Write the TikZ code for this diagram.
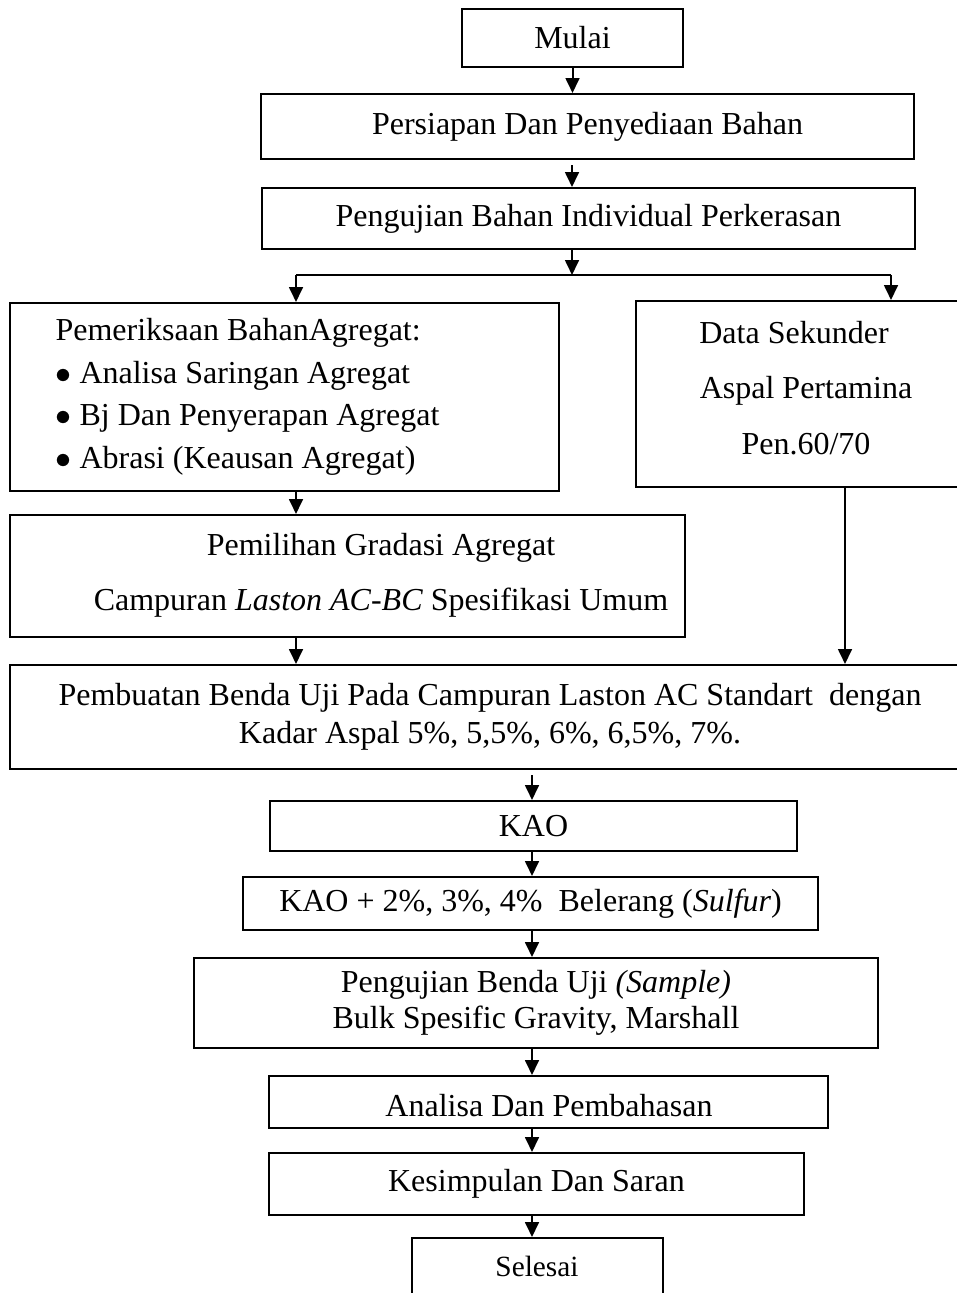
\documentclass[tikz,border=0pt]{standalone}
\usepackage{fontspec}
\setmainfont{Liberation Serif}
\usetikzlibrary{arrows.meta}
\newcommand{\pxl}{0.375pt}
\newcommand{\blt}{$\bullet$\hspace{3pt}}

\begin{document}
\begin{tikzpicture}[x=0.375pt, y=-0.375pt,
    box/.style={rectangle, draw, line width=0.75pt, inner sep=0pt, align=center, font=\fontsize{12}{14.4}\selectfont},
    txt/.style={inner sep=0pt, font=\fontsize{12}{14.4}\selectfont},
    arr/.style={-{Triangle[length=5.6pt, width=5.2pt]}, line width=0.75pt},
    splitline/.style={line width=0.75pt}
]
    \useasboundingbox (0,0) rectangle (957,1293);
    % upper chain
    \node[box, minimum width=221*\pxl, minimum height=58*\pxl] (mulai) at (572.5,38) {Mulai};
    \node[box, minimum width=653*\pxl, minimum height=65*\pxl] (siap) at (587.5,126.5) {Persiapan Dan Penyediaan Bahan};
    \node[box, minimum width=653*\pxl, minimum height=61*\pxl] (uji) at (588.5,218.5) {Pengujian Bahan Individual Perkerasan};
    \coordinate (split) at (572,275);
    \coordinate (splitL) at (296,275);
    \coordinate (splitR) at (891,275);
    % two branches
    \node[box, minimum width=549*\pxl, minimum height=188*\pxl] (periksa) at (284.5,397) {};
    \node[txt, anchor=west, align=left, font=\fontsize{12}{16}\selectfont] (periksatxt) at (55,397)
        {Pemeriksaan BahanAgregat:\\
         \blt Analisa Saringan Agregat\\
         \blt Bj Dan Penyerapan Agregat\\
         \blt Abrasi (Keausan Agregat)};
    \node[box, minimum width=334*\pxl, minimum height=186*\pxl] (data) at (803,394) {};
    \node[txt, align=center, font=\fontsize{12}{20.8}\selectfont] (datatxt) at (806,388)
        {Data Sekunder\hspace*{9pt}\\Aspal Pertamina\\Pen.60/70};
    \coordinate (dataout) at (845,487);
    \node[box, minimum width=675*\pxl, minimum height=122*\pxl] (pilih) at (347.5,576) {};
    \node[txt, align=center, font=\fontsize{12}{20.6}\selectfont] (pilihtxt) at (381,575)
        {Pemilihan Gradasi Agregat\\Campuran \textit{Laston AC-BC} Spesifikasi Umum};
    % lower chain
    \node[box, minimum width=960*\pxl, minimum height=104*\pxl, font=\fontsize{12}{14.25}\selectfont] (buat) at (490,717)
        {Pembuatan Benda Uji Pada Campuran Laston AC Standart\ \ dengan\\Kadar Aspal 5\%, 5,5\%, 6\%, 6,5\%, 7\%.};
    \coordinate (spine) at (532,780);
    \node[box, minimum width=527*\pxl, minimum height=50*\pxl] (kao) at (533.5,826) {KAO};
    \node[box, minimum width=575*\pxl, minimum height=53*\pxl] (kaoplus) at (530.5,903.5) {KAO + 2\%, 3\%, 4\%\ \ Belerang (\textit{Sulfur})};
    \node[box, minimum width=684*\pxl, minimum height=90*\pxl, font=\fontsize{12}{13.5}\selectfont] (sampel) at (536,1003)
        {Pengujian Benda Uji \textit{(Sample)}\\Bulk Spesific Gravity, Marshall};
    \node[box, minimum width=559*\pxl, minimum height=52*\pxl] (analisa) at (548.5,1102) {};
    \node[txt] (analisatxt) at (549,1106) {Analisa Dan Pembahasan};
    \node[box, minimum width=535*\pxl, minimum height=62*\pxl] (simpul) at (536.5,1184) {Kesimpulan Dan Saran};
    \node[box, minimum width=251*\pxl, minimum height=72*\pxl] (selesai) at (537.5,1274) {};
    \node[txt, font=\fontsize{11}{13}\selectfont] (selesaitxt) at (537,1266) {Selesai};
    % connectors
    \draw[arr] (mulai.south) -- (mulai.south |- siap.north);
    \draw[arr, shorten <=2pt] (split |- siap.south) -- (split |- uji.north);
    \draw[arr] (split |- uji.south) -- (split);
    \draw[splitline] (splitL) -- (splitR);
    \draw[arr] (splitL) -- (splitL |- periksa.north);
    \draw[arr] (splitR) -- (splitR |- data.north);
    \draw[arr] (splitL |- periksa.south) -- (splitL |- pilih.north);
    \draw[arr] (splitL |- pilih.south) -- (splitL |- buat.north);
    \draw[arr] (dataout) -- (dataout |- buat.north);
    \draw[arr, shorten <=2pt] (spine |- buat.south) -- (spine |- kao.north);
    \draw[arr] (spine |- kao.south) -- (spine |- kaoplus.north);
    \draw[arr] (spine |- kaoplus.south) -- (spine |- sampel.north);
    \draw[arr] (spine |- sampel.south) -- (spine |- analisa.north);
    \draw[arr] (spine |- analisa.south) -- (spine |- simpul.north);
    \draw[arr] (spine |- simpul.south) -- (spine |- selesai.north);
\end{tikzpicture}
\end{document}
